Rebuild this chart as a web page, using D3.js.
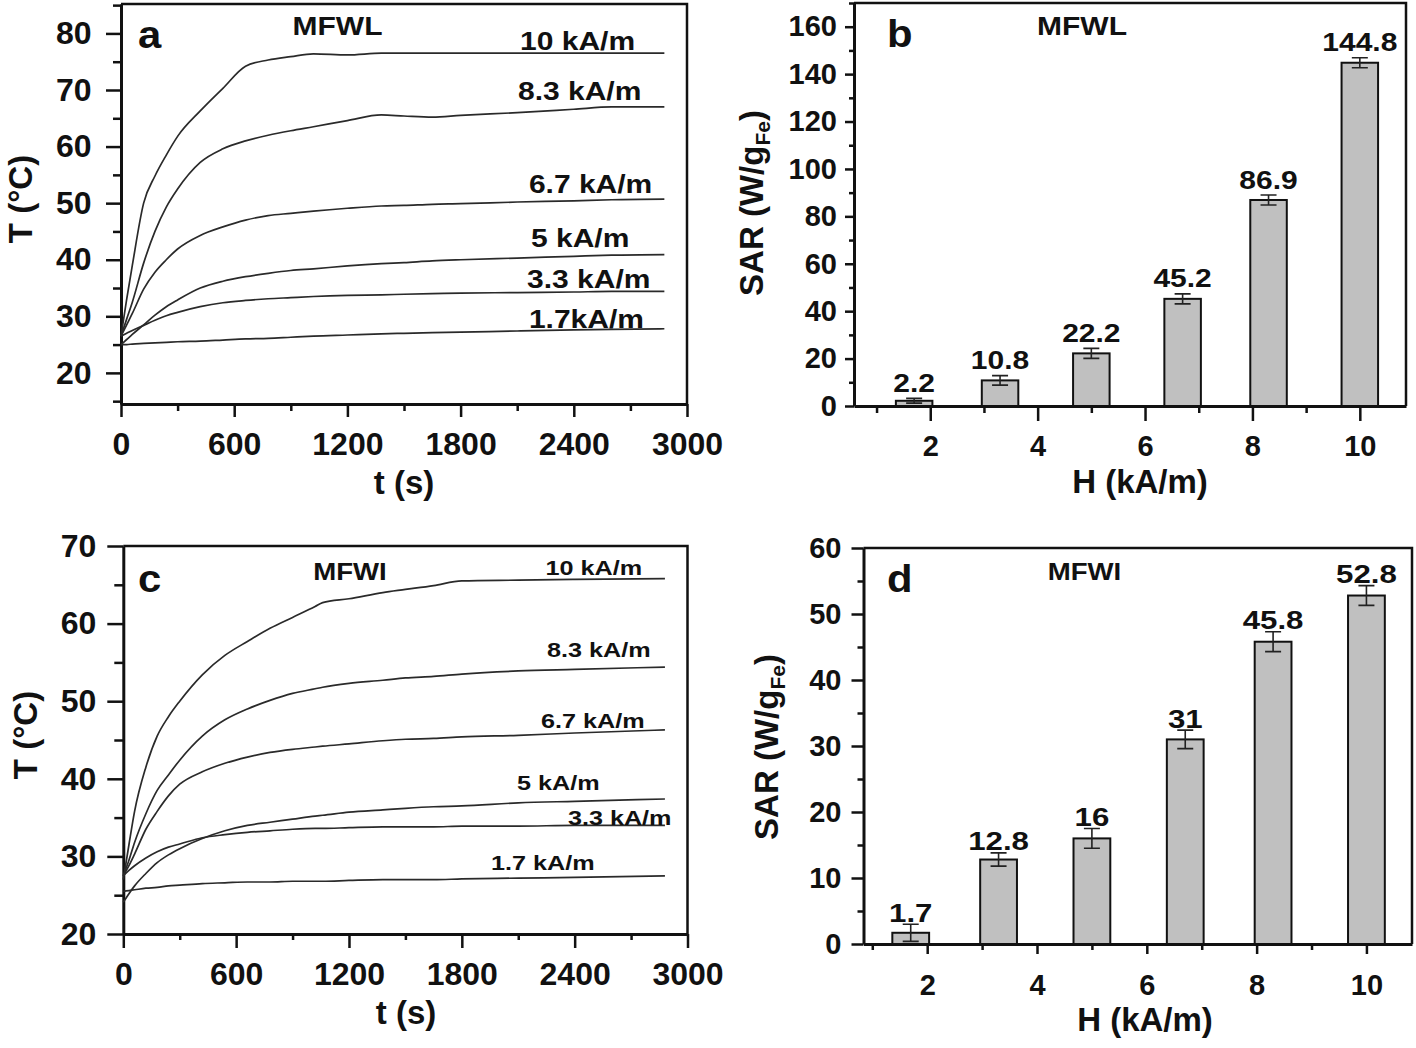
<!DOCTYPE html>
<html><head><meta charset="utf-8">
<script src="https://cdn.jsdelivr.net/npm/d3@7"></script>
<style>
body{margin:0;background:#fff;}
svg{display:block;background:#fff;}
text{font-family:"Liberation Sans", Arial, Helvetica, sans-serif;font-weight:bold;fill:#111;}
</style></head><body>
<svg id="chart" width="1416" height="1048"></svg>
<script>
// ---------------- DATA ----------------
// Panel a (MFWL) heating curves, T (°C) vs t (s)
const timeA = [0,30,60,120,180,240,300,420,540,660,780,900,1020,1200,1380,1500,1650,1800,2100,2400,2600,2880];
const tempA_10  = [26.5,33,39,50,54.8,58.5,61.8,66.3,70.3,74.2,75.3,75.9,76.4,76.2,76.5,76.5,76.5,76.5,76.5,76.5,76.5,76.5];
const tempA_8_3 = [26.5,29.5,32.5,39.4,45,49.3,52.5,57.2,59.6,61,62,62.8,63.5,64.6,65.6,65.4,65.2,65.5,66,66.6,67,67];
const tempA_6_7 = [26.5,28.5,30.5,34.8,37.8,40,41.9,44.3,45.8,47,47.8,48.2,48.6,49.1,49.5,49.6,49.8,49.9,50.2,50.4,50.6,50.7];
const tempA_5   = [25,25.9,26.8,28.5,30.2,31.7,32.9,35,36.2,37,37.6,38.1,38.4,38.9,39.3,39.5,39.8,40,40.3,40.6,40.8,40.9];
const tempA_3_3 = [26.5,27,27.5,28.4,29.3,30.1,30.7,31.7,32.4,32.8,33.1,33.3,33.5,33.7,33.8,33.9,34,34.1,34.2,34.3,34.4,34.4];
const tempA_1_7 = [25,25,25.1,25.2,25.3,25.4,25.5,25.6,25.8,26,26.1,26.3,26.5,26.7,26.9,27,27.1,27.2,27.4,27.6,27.7,27.8];
const curveLabelsA = ["10 kA/m","8.3 kA/m","6.7 kA/m","5 kA/m","3.3 kA/m","1.7kA/m"];

// Panel c (MFWI) heating curves
const timeC = [0,30,60,120,180,240,300,420,540,660,780,900,1020,1060,1200,1380,1500,1650,1800,2100,2400,2880];
const tempC_10  = [27,31.5,35.8,41.5,45.5,48,50,53.4,55.9,57.7,59.4,60.8,62.2,62.7,63.2,64,64.4,64.9,65.5,65.6,65.7,65.8];
const tempC_8_3 = [27.5,29.5,31.8,35.5,38.5,40.5,42.4,45.5,47.6,49,50.1,51,51.6,51.8,52.3,52.7,53,53.2,53.5,53.9,54.1,54.4];
const tempC_6_7 = [27.5,28.8,30.3,33.5,35.8,37.8,39.3,40.9,42,42.8,43.4,43.8,44.1,44.2,44.5,44.9,45.1,45.2,45.4,45.6,45.9,46.3];
const tempC_5   = [24.1,25.2,26.2,27.8,29.2,30.2,31,32.3,33.3,34,34.4,34.8,35.2,35.3,35.7,36,36.2,36.4,36.5,36.9,37.1,37.4];
const tempC_3_3 = [27.5,28.2,28.8,29.8,30.6,31.2,31.6,32.4,32.8,33.1,33.3,33.5,33.6,33.6,33.7,33.8,33.8,33.8,33.9,33.9,34,34];
const tempC_1_7 = [25.5,25.6,25.7,25.9,26,26.2,26.3,26.5,26.6,26.7,26.7,26.8,26.8,26.8,26.9,27,27,27,27.1,27.2,27.3,27.5];
const curveLabelsC = ["10 kA/m","8.3 kA/m","6.7 kA/m","5 kA/m","3.3 kA/m","1.7 kA/m"];

// Panels b and d: SAR bars
const fieldH = [1.7, 3.3, 5, 6.7, 8.3, 10];
const sarMFWL = [2.2, 10.8, 22.2, 45.2, 86.9, 144.8];
const errMFWL = [1, 2, 2.1, 2.1, 2.1, 2.1];
const sarLabelsMFWL = ["2.2","10.8","22.2","45.2","86.9","144.8"];
const sarMFWI = [1.7, 12.8, 16, 31, 45.8, 52.8];
const errMFWI = [1.3, 1, 1.5, 1.4, 1.5, 1.5];
const sarLabelsMFWI = ["1.7","12.8","16","31","45.8","52.8"];

// tick labels
const ticksTime = [0,600,1200,1800,2400,3000];
const ticksTempA = [20,30,40,50,60,70,80];
const ticksTempC = [20,30,40,50,60,70];
const ticksH = [2,4,6,8,10];
const ticksSarB = [0,20,40,60,80,100,120,140,160];
const ticksSarD = [0,10,20,30,40,50,60];

// ---------------- DRAWING ----------------
const svg = d3.select("#chart");
const INK = "#111";
const STRETCH = 1.2;
const fmt = d3.format("d");

function sText(g, x, y, txt, size, anchor, sx) {
  return g.append("text")
    .attr("transform", `translate(${x},${y}) scale(${sx},1)`)
    .attr("text-anchor", anchor)
    .style("font-size", size + "px")
    .text(txt);
}

function between(arr) {
  const out = [];
  for (let i = 0; i < arr.length - 1; i++) out.push((arr[i] + arr[i+1]) / 2);
  return out;
}

function frame(p) {
  const g = svg.append("g");
  const x = d3.scaleLinear().domain(p.xDomain).range([p.x0, p.x1]);
  const y = d3.scaleLinear().domain(p.yDomain).range([p.y1, p.y0]);

  // minor ticks
  g.append("g").attr("transform", `translate(0,${p.y1})`)
    .call(d3.axisBottom(x).tickValues(p.xMinor).tickSize(p.xMinLen).tickFormat("").tickSizeOuter(0))
    .call(s => s.select(".domain").remove());
  g.append("g").attr("transform", `translate(${p.x0},0)`)
    .call(d3.axisLeft(y).tickValues(p.yMinor).tickSize(p.yMinLen).tickFormat("").tickSizeOuter(0))
    .call(s => s.select(".domain").remove());

  // major axes
  const xPad = p.xBase - p.xMajLen - 0.71 * p.tickFont;
  const gx = g.append("g").attr("transform", `translate(0,${p.y1})`)
    .call(d3.axisBottom(x).tickValues(p.xMajor).tickFormat(fmt).tickSize(p.xMajLen).tickPadding(xPad).tickSizeOuter(0));
  const gy = g.append("g").attr("transform", `translate(${p.x0},0)`)
    .call(d3.axisLeft(y).tickValues(p.yMajor).tickFormat(fmt).tickSize(p.yMajLen).tickPadding(p.yGap - p.yMajLen).tickSizeOuter(0));
  [gx, gy].forEach(a => {
    a.attr("font-family", null).attr("font-size", null);
    a.selectAll("text").style("font-size", p.tickFont + "px").attr("fill", INK);
  });
  g.selectAll(".tick line").attr("stroke", INK).attr("stroke-width", 2.5);
  g.selectAll(".domain").attr("stroke", INK).attr("stroke-width", 3);

  // top & right frame
  g.append("path")
    .attr("d", `M${p.x0},${p.y0}H${p.x1}V${p.y1}`)
    .attr("fill", "none").attr("stroke", INK).attr("stroke-width", 2.5);

  // axis titles
  g.append("text")
    .attr("transform", `translate(${p.xTitleX},${p.xTitleY})`)
    .attr("text-anchor", "middle").style("font-size", "33px")
    .text(p.xTitle);
  const yt = g.append("text")
    .attr("transform", `translate(${p.yTitleX},${p.yTitleY}) rotate(-90)`)
    .attr("text-anchor", "middle").style("font-size", "33px");
  if (p.ySub) {
    yt.append("tspan").text(p.yTitle);
    yt.append("tspan").style("font-size", "21px").attr("dy", 7).text(p.ySub);
    yt.append("tspan").attr("dy", -7).text(p.yTitleEnd);
  } else {
    yt.text(p.yTitle);
  }

  // panel letter and sample name
  sText(g, p.letterX, p.letterY, p.letter, 38, "start", 1.1);
  sText(g, p.nameX, p.nameY, p.name, p.nameFont, "middle", STRETCH);
  return {g, x, y};
}

function curvePanel(p, times, series, labels, labelPos, labelFont) {
  const {g, x, y} = frame(p);
  const line = d3.line().x(d => x(d[0])).y(d => y(d[1])).curve(d3.curveMonotoneX);
  series.forEach((vals, i) => {
    const pts = times.map((t, j) => [t, vals[j]]);
    g.append("path").attr("d", line(pts))
      .attr("fill", "none").attr("stroke", "#2a2a2a").attr("stroke-width", 1.7);
    sText(g, x(labelPos[i][0]), y(labelPos[i][1]), labels[i], labelFont, "start", STRETCH);
  });
}

function barPanel(p, hs, vals, errs, labels, barW, labelGap, labelFont) {
  const {g, x, y} = frame(p);
  hs.forEach((h, i) => {
    const xl = x(h - barW / 2), xr = x(h + barW / 2);
    g.append("rect")
      .attr("x", xl).attr("y", y(vals[i]))
      .attr("width", xr - xl).attr("height", y(0) - y(vals[i]))
      .attr("fill", "#c0c0c0").attr("stroke", INK).attr("stroke-width", 2);
    const cx = x(h), top = y(vals[i] + errs[i]), bot = y(vals[i] - errs[i]);
    g.append("path")
      .attr("d", `M${cx},${top}V${bot}M${cx-8},${top}H${cx+8}M${cx-8},${bot}H${cx+8}`)
      .attr("stroke", "#222").attr("stroke-width", 1.6).attr("fill", "none");
    sText(g, cx, top - labelGap, labels[i], labelFont, "middle", STRETCH);
  });
}

// Panel a
curvePanel({
  x0: 121, x1: 687, y0: 4, y1: 404,
  xDomain: [0, 3000], yDomain: [14.5, 85.2],
  xMajor: ticksTime, xMinor: between(ticksTime),
  yMajor: ticksTempA, yMinor: [15].concat(between(ticksTempA), [85]),
  xMajLen: 13, xMinLen: 7, yMajLen: 15, yMinLen: 8,
  tickFont: 32, xBase: 51, yGap: 29.5,
  xTitle: "t (s)", xTitleX: 404, xTitleY: 494,
  yTitle: "T (°C)", yTitleX: 32, yTitleY: 199,
  letter: "a", letterX: 138, letterY: 48,
  name: "MFWL", nameX: 337.5, nameY: 35, nameFont: 25
}, timeA, [tempA_10, tempA_8_3, tempA_6_7, tempA_5, tempA_3_3, tempA_1_7], curveLabelsA,
[[2115,77.07],[2104,68.23],[2162,51.8],[2173,42.25],[2152,35.0],[2162,27.94]], 25);

// Panel b
barPanel({
  x0: 854, x1: 1406, y0: 3, y1: 406,
  xDomain: [0.58, 10.86], yDomain: [0, 170],
  xMajor: ticksH, xMinor: [1,3,5,7,9],
  yMajor: ticksSarB, yMinor: between(ticksSarB).concat([170]),
  xMajLen: 15, xMinLen: 7, yMajLen: 9, yMinLen: 5,
  tickFont: 29, xBase: 50, yGap: 17,
  xTitle: "H (kA/m)", xTitleX: 1140, xTitleY: 493,
  yTitle: "SAR (W/g", ySub: "Fe", yTitleEnd: ")", yTitleX: 763, yTitleY: 203,
  letter: "b", letterX: 887, letterY: 47,
  name: "MFWL", nameX: 1082, nameY: 35, nameFont: 25
}, fieldH, sarMFWL, errMFWL, sarLabelsMFWL, 0.68, 6.5, 25);

// Panel c
curvePanel({
  x0: 123.3, x1: 687.5, y0: 546, y1: 934,
  xDomain: [0, 3000], yDomain: [20, 70],
  xMajor: ticksTime, xMinor: between(ticksTime),
  yMajor: ticksTempC, yMinor: between(ticksTempC),
  xMajLen: 14, xMinLen: 6, yMajLen: 16, yMinLen: 9,
  tickFont: 32, xBase: 51, yGap: 27,
  xTitle: "t (s)", xTitleX: 406, xTitleY: 1024,
  yTitle: "T (°C)", yTitleX: 37, yTitleY: 735,
  letter: "c", letterX: 138, letterY: 591.7,
  name: "MFWI", nameX: 350, nameY: 580, nameFont: 23
}, timeC, [tempC_10, tempC_8_3, tempC_6_7, tempC_5, tempC_3_3, tempC_1_7], curveLabelsC,
[[2245,66.26],[2253,55.73],[2221,46.55],[2093,38.56],[2364,34.05],[1955,28.25]], 21);

// Panel d
barPanel({
  x0: 863.5, x1: 1412, y0: 548, y1: 944,
  xDomain: [0.84, 10.83], yDomain: [0, 60],
  xMajor: ticksH, xMinor: [1,3,5,7,9],
  yMajor: ticksSarD, yMinor: between(ticksSarD),
  xMajLen: 10, xMinLen: 6, yMajLen: 12, yMinLen: 6,
  tickFont: 29, xBase: 51, yGap: 22,
  xTitle: "H (kA/m)", xTitleX: 1145, xTitleY: 1031,
  yTitle: "SAR (W/g", ySub: "Fe", yTitleEnd: ")", yTitleX: 778, yTitleY: 747,
  letter: "d", letterX: 887, letterY: 591.7,
  name: "MFWI", nameX: 1084.5, nameY: 580, nameFont: 23
}, fieldH, sarMFWI, errMFWI, sarLabelsMFWI, 0.67, 2.5, 26);
</script>
</body></html>
